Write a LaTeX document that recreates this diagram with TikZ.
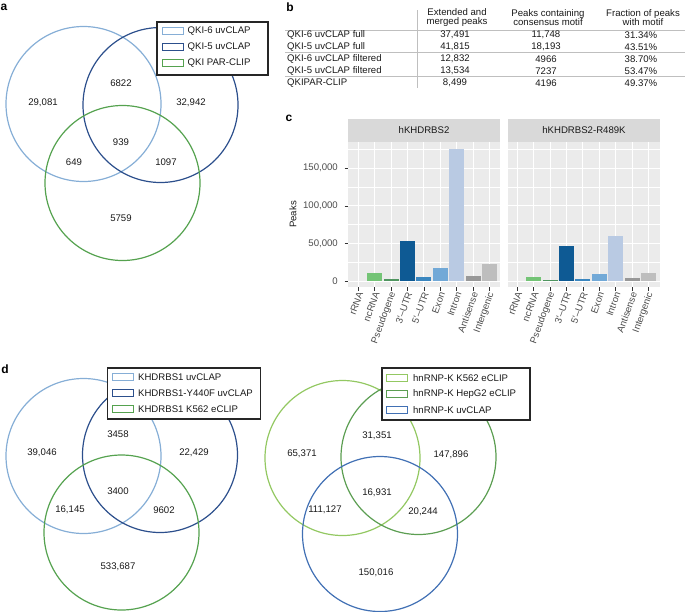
\documentclass[tikz,border=0pt]{standalone}
\usepackage{fontspec}
\setmainfont{Liberation Sans}
\usetikzlibrary{positioning}
\newcommand\fsz{\fontsize{9.6}{9.8}\selectfont}
\definecolor{cLb}{HTML}{86AED6}
\definecolor{cDb}{HTML}{2C4F8C}
\definecolor{cGr}{HTML}{55A24F}
\definecolor{cLg}{HTML}{93C862}
\definecolor{cMg}{HTML}{5C9E52}
\definecolor{cBl}{HTML}{4170B4}
\definecolor{cNc}{HTML}{74C476}
\definecolor{cPs}{HTML}{4F9560}
\definecolor{cU3}{HTML}{0E5A94}
\definecolor{cU5}{HTML}{3A86BF}
\definecolor{cEx}{HTML}{72A9D7}
\definecolor{cIn}{HTML}{B9CAE3}
\definecolor{cAs}{HTML}{989898}
\definecolor{cIg}{HTML}{BEBEBE}
\definecolor{pbg}{HTML}{EBEBEB}
\definecolor{sbg}{HTML}{D9D9D9}
\tikzset{
  ring/.style={circle, draw=#1, line width=1.2pt, minimum size=155pt, inner sep=0pt},
  num/.style={font=\fsz, text=black!90, inner sep=0pt},
  legbox/.style={draw=black!85, line width=1.1pt, fill=white, inner sep=0pt},
  sw/.style={draw=#1, line width=0.9pt, minimum width=21pt, minimum height=7pt, inner sep=0pt},
  legtxt/.style={font=\fsz, text=black!90, inner sep=0pt},
  plab/.style={font=\fontsize{12}{12}\selectfont\bfseries, inner sep=0pt},
  cell/.style={font=\fsz, text=black!90, inner sep=0pt},
  hdr/.style={font=\fsz, text=black!90, inner sep=0pt, align=center},
  rule/.style={draw=black!25, line width=0.6pt},
  gmaj/.style={draw=white, line width=0.9pt},
  gmin/.style={draw=white, line width=0.45pt},
  ylab/.style={font=\fsz, text=black!70, inner sep=0pt, anchor=east},
  xlab/.style={font=\fsz, text=black!70, inner sep=0pt, anchor=east, rotate=70},
  tck/.style={draw=black!80, line width=0.5pt},
}
\begin{document}
\begin{tikzpicture}[x=1pt,y=-1pt]
  \useasboundingbox (0,0) rectangle (685,611);
  % a
  \node[plab] (la) at (4,7) {a};
  \node[ring=cLb] (qsix) at (83.5,104) {};
  \node[ring=cDb] (qfive) at (160.5,105) {};
  \node[ring=cGr] (qpar) at (122.5,183) {};
  \node[num] (na1) at (43,103) {29,081};
  \node[num] (na2) at (121,83) {6822};
  \node[num] (na3) at (191,103) {32,942};
  \node[num] (na4) at (121,142) {939};
  \node[num] (na5) at (74,162) {649};
  \node[num] (na6) at (166,162) {1097};
  \node[num] (na7) at (121,218) {5759};
  \node[legbox, minimum width=111pt, minimum height=53pt] (lega) at (212.5,48.5) {};
  \node[sw=cLb] (swa1) at (172.5,30.7) {};
  \node[sw=cDb] (swa2) at (172.5,46.7) {};
  \node[sw=cGr] (swa3) at (172.5,62.7) {};
  \node[legtxt, right=4pt of swa1] (ta1) {QKI-6 uvCLAP};
  \node[legtxt, right=4pt of swa2] (ta2) {QKI-5 uvCLAP};
  \node[legtxt, right=4pt of swa3] (ta3) {QKI PAR-CLIP};

  % b
  \node[plab] (lb) at (290,7) {b};
  \draw[rule] (417,10) -- (417,88);
  \draw[rule] (285,30.5) -- (685,30.5);
  \draw[rule] (285,52.7) -- (685,52.7);
  \draw[rule] (285,76.6) -- (685,76.6);
  \node[hdr] (h1) at (457,17.5) {Extended and\\merged peaks};
  \node[hdr] (h2) at (548,17.5) {Peaks containing\\consensus motif};
  \node[hdr] (h3) at (643,17.5) {Fraction of peaks\\with motif};
  \node[cell, anchor=west] (r1) at (287,34.7) {QKI-6 uvCLAP full};
  \node[cell, anchor=west] (r2) at (287,46.7) {QKI-5 uvCLAP full};
  \node[cell, anchor=west] (r3) at (287,58.7) {QKI-6 uvCLAP filtered};
  \node[cell, anchor=west] (r4) at (287,70.7) {QKI-5 uvCLAP filtered};
  \node[cell, anchor=west] (r5) at (287,82.7) {QKIPAR-CLIP};
  \node[cell] (r1a) at (455,34.7) {37,491};
  \node[cell] (r2a) at (455,46.7) {41,815};
  \node[cell] (r3a) at (455,58.7) {12,832};
  \node[cell] (r4a) at (455,70.7) {13,534};
  \node[cell] (r5a) at (455,82.7) {8,499};
  \node[cell] (r1b) at (546,34.7) {11,748};
  \node[cell] (r2b) at (546,46.7) {18,193};
  \node[cell] (r3b) at (546,58.7) {4966};
  \node[cell] (r4b) at (546,70.7) {7237};
  \node[cell] (r5b) at (546,82.7) {4196};
  \node[cell] (r1c) at (641,34.7) {31.34\%};
  \node[cell] (r2c) at (641,46.7) {43.51\%};
  \node[cell] (r3c) at (641,58.7) {38.70\%};
  \node[cell] (r4c) at (641,70.7) {53.47\%};
  \node[cell] (r5c) at (641,82.7) {49.37\%};

  % c
  \node[plab] (lc) at (289,118) {c};
  \fill[sbg] (348,119) rectangle (500,142);
  \fill[sbg] (508,119) rectangle (660,142);
  \node[cell, text=black!90] (st1) at (424,130.5) {hKHDRBS2};
  \node[cell, text=black!90] (st2) at (584,130.5) {hKHDRBS2-R489K};
  \fill[pbg] (348,142) rectangle (500,287);
  \fill[pbg] (508,142) rectangle (660,287);
  \foreach \yy in {262.2,224.6,187,149.4} {
    \draw[gmin] (348,\yy) -- (500,\yy);
    \draw[gmin] (508,\yy) -- (660,\yy);
  }
  \foreach \yy in {281,243.4,205.8,168.2} {
    \draw[gmaj] (348,\yy) -- (500,\yy);
    \draw[gmaj] (508,\yy) -- (660,\yy);
  }
  \foreach \i in {0,...,8} {
    \draw[gmaj] ({358.3+16.4*\i},142) -- ({358.3+16.4*\i},287);
    \draw[gmaj] ({517.3+16.4*\i},142) -- ({517.3+16.4*\i},287);
    \draw[tck] ({358.3+16.4*\i},287) -- ({358.3+16.4*\i},290.5);
    \draw[tck] ({517.3+16.4*\i},287) -- ({517.3+16.4*\i},290.5);
  }
  % bars, hKHDRBS2
  \foreach \i/\h/\c in {1/7.8/cNc, 2/1.7/cPs, 3/39.7/cU3, 4/4/cU5, 5/13.5/cEx, 6/132.3/cIn, 7/5/cAs, 8/17/cIg}
    \fill[\c] ({358.3+16.4*\i-7.5},281) rectangle ++(15,-\h);
  % bars, hKHDRBS2-R489K
  \foreach \i/\h/\c in {1/3.7/cNc, 2/0.8/cPs, 3/35/cU3, 4/2/cU5, 5/7/cEx, 6/45/cIn, 7/3/cAs, 8/8.3/cIg}
    \fill[\c] ({517.3+16.4*\i-7.5},281) rectangle ++(15,-\h);
  \foreach \yy/\t in {168.2/{150,000}, 205.8/{100,000}, 243.4/{50,000}, 281/0} {
    \draw[tck] (344.5,\yy) -- (348,\yy);
    \node[ylab] at (338,\yy) {\t};
  }
  \node[cell, rotate=90, text=black!90] (ytit) at (293,214.5) {Peaks};
  \foreach \i/\t in {0/rRNA, 1/ncRNA, 2/Pseudogene, 3/3′–UTR, 4/5′–UTR, 5/Exon, 6/Intron, 7/Antisense, 8/Intergenic} {
    \node[xlab] at ({358.3+16.4*\i+2},292.5) {\t};
    \node[xlab] at ({517.3+16.4*\i+2},292.5) {\t};
  }

  % d
  \node[plab] (ld) at (5,369) {d};
  \node[ring=cLb] (kone) at (83.5,456) {};
  \node[ring=cDb] (kyf) at (160,455) {};
  \node[ring=cGr] (kecl) at (121.5,532.5) {};
  \node[num] (nd1) at (42,453) {39,046};
  \node[num] (nd2) at (118,434) {3458};
  \node[num] (nd3) at (194,453) {22,429};
  \node[num] (nd4) at (118,491) {3400};
  \node[num] (nd5) at (70,510) {16,145};
  \node[num] (nd6) at (164,510) {9602};
  \node[num] (nd7) at (118,567) {533,687};
  \node[legbox, minimum width=153pt, minimum height=51pt] (legd) at (184,393.5) {};
  \node[sw=cLb] (swd1) at (122.5,377) {};
  \node[sw=cDb] (swd2) at (122.5,393) {};
  \node[sw=cGr] (swd3) at (122.5,409) {};
  \node[legtxt, right=4.5pt of swd1] (td1) {KHDRBS1 uvCLAP};
  \node[legtxt, right=4.5pt of swd2] (td2) {KHDRBS1-Y440F uvCLAP};
  \node[legtxt, right=4.5pt of swd3] (td3) {KHDRBS1 K562 eCLIP};

  \node[ring=cLg] (hk) at (342.5,458) {};
  \node[ring=cMg] (hh) at (418.5,457) {};
  \node[ring=cBl] (hu) at (380,534) {};
  \node[num] (ne1) at (302,454) {65,371};
  \node[num] (ne2) at (377,436) {31,351};
  \node[num] (ne3) at (451,455) {147,896};
  \node[num] (ne4) at (377,493) {16,931};
  \node[num] (ne5) at (325,510) {111,127};
  \node[num] (ne6) at (423,512) {20,244};
  \node[num] (ne7) at (376,573) {150,016};
  \node[legbox, minimum width=148pt, minimum height=52pt] (lege) at (456,394) {};
  \node[sw=cLg] (swe1) at (397,378) {};
  \node[sw=cMg] (swe2) at (397,394) {};
  \node[sw=cBl] (swe3) at (397,410) {};
  \node[legtxt, right=5pt of swe1] (te1) {hnRNP-K K562 eCLIP};
  \node[legtxt, right=5pt of swe2] (te2) {hnRNP-K HepG2 eCLIP};
  \node[legtxt, right=5pt of swe3] (te3) {hnRNP-K uvCLAP};
\end{tikzpicture}
\end{document}
